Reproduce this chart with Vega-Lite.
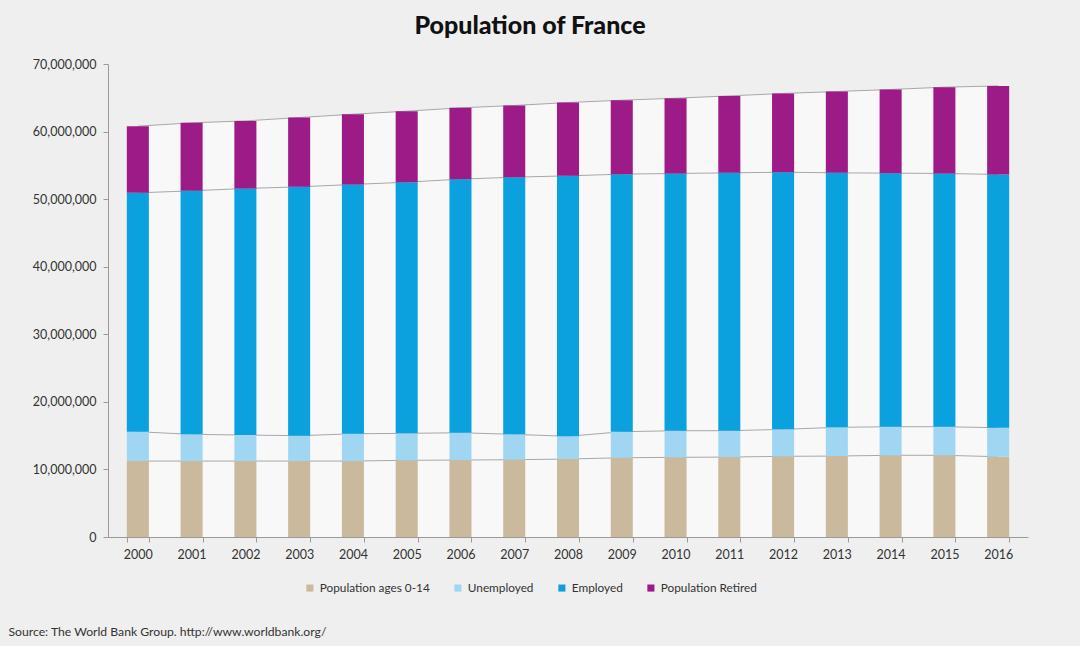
{
  "$schema": "https://vega.github.io/schema/vega-lite/v6.json",
  "width": 920,
  "height": 473,
  "autosize": {"type": "none"},
  "padding": {"left": 108, "top": 64, "right": 52, "bottom": 109},
  "background": "#efefef",
  "config": {"view": {"stroke": null}, "font": "Lato"},
  "title": {"text": "Population of France", "fontSize": 25, "fontWeight": 900, "font": "Lato", "color": "#111111", "anchor": "middle", "frame": "group", "dx": -38, "offset": 19},
  "data": {"values": [
    {"year": "2000", "group": "Population ages 0-14", "k": 1, "value": 11240000},
    {"year": "2000", "group": "Unemployed", "k": 2, "value": 4340000},
    {"year": "2000", "group": "Employed", "k": 3, "value": 35350000},
    {"year": "2000", "group": "Population Retired", "k": 4, "value": 9870000},
    {"year": "2001", "group": "Population ages 0-14", "k": 1, "value": 11240000},
    {"year": "2001", "group": "Unemployed", "k": 2, "value": 3950000},
    {"year": "2001", "group": "Employed", "k": 3, "value": 36040000},
    {"year": "2001", "group": "Population Retired", "k": 4, "value": 10060000},
    {"year": "2002", "group": "Population ages 0-14", "k": 1, "value": 11240000},
    {"year": "2002", "group": "Unemployed", "k": 2, "value": 3850000},
    {"year": "2002", "group": "Employed", "k": 3, "value": 36490000},
    {"year": "2002", "group": "Population Retired", "k": 4, "value": 10000000},
    {"year": "2003", "group": "Population ages 0-14", "k": 1, "value": 11240000},
    {"year": "2003", "group": "Unemployed", "k": 2, "value": 3750000},
    {"year": "2003", "group": "Employed", "k": 3, "value": 36830000},
    {"year": "2003", "group": "Population Retired", "k": 4, "value": 10260000},
    {"year": "2004", "group": "Population ages 0-14", "k": 1, "value": 11240000},
    {"year": "2004", "group": "Unemployed", "k": 2, "value": 4040000},
    {"year": "2004", "group": "Employed", "k": 3, "value": 36890000},
    {"year": "2004", "group": "Population Retired", "k": 4, "value": 10400000},
    {"year": "2005", "group": "Population ages 0-14", "k": 1, "value": 11350000},
    {"year": "2005", "group": "Unemployed", "k": 2, "value": 3990000},
    {"year": "2005", "group": "Employed", "k": 3, "value": 37170000},
    {"year": "2005", "group": "Population Retired", "k": 4, "value": 10510000},
    {"year": "2006", "group": "Population ages 0-14", "k": 1, "value": 11390000},
    {"year": "2006", "group": "Unemployed", "k": 2, "value": 4040000},
    {"year": "2006", "group": "Employed", "k": 3, "value": 37530000},
    {"year": "2006", "group": "Population Retired", "k": 4, "value": 10550000},
    {"year": "2007", "group": "Population ages 0-14", "k": 1, "value": 11440000},
    {"year": "2007", "group": "Unemployed", "k": 2, "value": 3750000},
    {"year": "2007", "group": "Employed", "k": 3, "value": 38060000},
    {"year": "2007", "group": "Population Retired", "k": 4, "value": 10610000},
    {"year": "2008", "group": "Population ages 0-14", "k": 1, "value": 11540000},
    {"year": "2008", "group": "Unemployed", "k": 2, "value": 3360000},
    {"year": "2008", "group": "Employed", "k": 3, "value": 38550000},
    {"year": "2008", "group": "Population Retired", "k": 4, "value": 10850000},
    {"year": "2009", "group": "Population ages 0-14", "k": 1, "value": 11730000},
    {"year": "2009", "group": "Unemployed", "k": 2, "value": 3850000},
    {"year": "2009", "group": "Employed", "k": 3, "value": 38120000},
    {"year": "2009", "group": "Population Retired", "k": 4, "value": 10940000},
    {"year": "2010", "group": "Population ages 0-14", "k": 1, "value": 11790000},
    {"year": "2010", "group": "Unemployed", "k": 2, "value": 3940000},
    {"year": "2010", "group": "Employed", "k": 3, "value": 38070000},
    {"year": "2010", "group": "Population Retired", "k": 4, "value": 11140000},
    {"year": "2011", "group": "Population ages 0-14", "k": 1, "value": 11830000},
    {"year": "2011", "group": "Unemployed", "k": 2, "value": 3900000},
    {"year": "2011", "group": "Employed", "k": 3, "value": 38160000},
    {"year": "2011", "group": "Population Retired", "k": 4, "value": 11390000},
    {"year": "2012", "group": "Population ages 0-14", "k": 1, "value": 11940000},
    {"year": "2012", "group": "Unemployed", "k": 2, "value": 3990000},
    {"year": "2012", "group": "Employed", "k": 3, "value": 38060000},
    {"year": "2012", "group": "Population Retired", "k": 4, "value": 11650000},
    {"year": "2013", "group": "Population ages 0-14", "k": 1, "value": 11980000},
    {"year": "2013", "group": "Unemployed", "k": 2, "value": 4250000},
    {"year": "2013", "group": "Employed", "k": 3, "value": 37660000},
    {"year": "2013", "group": "Population Retired", "k": 4, "value": 12040000},
    {"year": "2014", "group": "Population ages 0-14", "k": 1, "value": 12090000},
    {"year": "2014", "group": "Unemployed", "k": 2, "value": 4230000},
    {"year": "2014", "group": "Employed", "k": 3, "value": 37530000},
    {"year": "2014", "group": "Population Retired", "k": 4, "value": 12380000},
    {"year": "2015", "group": "Population ages 0-14", "k": 1, "value": 12090000},
    {"year": "2015", "group": "Unemployed", "k": 2, "value": 4230000},
    {"year": "2015", "group": "Employed", "k": 3, "value": 37480000},
    {"year": "2015", "group": "Population Retired", "k": 4, "value": 12770000},
    {"year": "2016", "group": "Population ages 0-14", "k": 1, "value": 11880000},
    {"year": "2016", "group": "Unemployed", "k": 2, "value": 4290000},
    {"year": "2016", "group": "Employed", "k": 3, "value": 37480000},
    {"year": "2016", "group": "Population Retired", "k": 4, "value": 13110000}
  ]},
  "transform": [
    {"stack": "value", "groupby": ["year"], "sort": [{"field": "k", "order": "ascending"}], "as": ["v0", "v1"]}
  ],
  "encoding": {
    "x": {
      "field": "year", "type": "ordinal",
      "scale": {"paddingInner": 0.59, "paddingOuter": 0.35},
      "axis": {
        "title": "Source: The World Bank Group.  http://www.worldbank.org/",
        "titleX": -100, "titleY": 94, "titleAlign": "left", "titleBaseline": "middle",
        "titleFontSize": 12.2, "titleFontWeight": "normal", "titleColor": "#333333", "titleFont": "Lato",
        "labelAngle": 0, "tickBand": "extent", "tickSize": 5, "tickColor": "#9a9a9a", "domainColor": "#9a9a9a",
        "labelPadding": 6, "labelFontSize": 12.5, "labelColor": "#333333", "labelFont": "Lato"
      }
    },
    "y": {
      "field": "v1", "type": "quantitative",
      "scale": {"domain": [0, 70000000], "nice": false},
      "axis": {
        "title": null, "format": ",.0f", "values": [0, 10000000, 20000000, 30000000, 40000000, 50000000, 60000000, 70000000],
        "grid": false, "tickSize": 5, "tickColor": "#9a9a9a", "domainColor": "#9a9a9a",
        "labelPadding": 7, "labelFontSize": 12.5, "labelColor": "#333333", "labelFont": "Lato"
      }
    }
  },
  "layer": [
    {
      "mark": {"type": "area", "color": "#f8f8f9", "opacity": 1},
      "encoding": {
        "y2": {"field": "v0"},
        "detail": {"field": "group", "type": "nominal"}
      }
    },
    {
      "mark": {"type": "line", "color": "#a8a8a8", "strokeWidth": 1},
      "encoding": {
        "detail": {"field": "group", "type": "nominal"}
      }
    },
    {
      "mark": {"type": "bar"},
      "encoding": {
        "y2": {"field": "v0"},
        "color": {
          "field": "group", "type": "nominal",
          "scale": {
            "domain": ["Population ages 0-14", "Unemployed", "Employed", "Population Retired"],
            "range": ["#cbb99e", "#a0d6f2", "#0ba1df", "#9c1b87"]
          },
          "legend": {
            "title": null, "orient": "none", "direction": "horizontal", "legendX": 196, "legendY": 518,
            "symbolType": "square", "symbolSize": 50, "symbolStrokeWidth": 0,
            "labelFontSize": 11.8, "labelColor": "#333333", "labelFont": "Lato", "labelOffset": 4, "columnPadding": 22
          }
        }
      }
    }
  ]
}
